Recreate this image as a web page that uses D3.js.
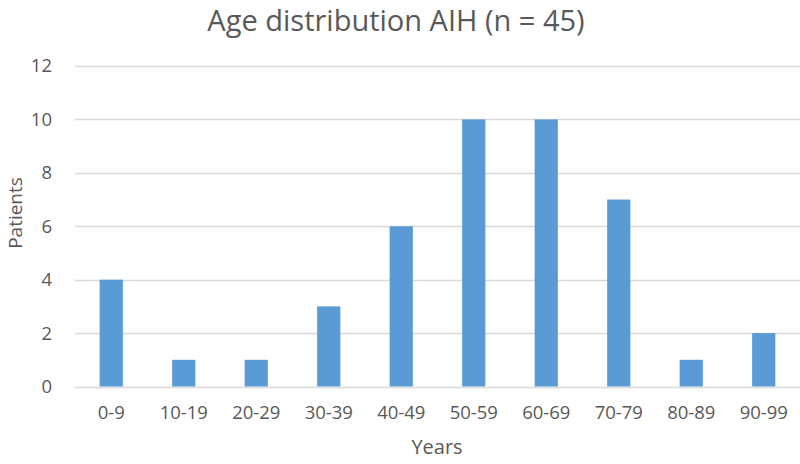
<!DOCTYPE html>
<html>
<head>
<meta charset="utf-8">
<script src="https://cdn.jsdelivr.net/npm/d3@7"></script>
<style>
  body { margin: 0; background: #fff; }
  text { font-family: "Open Sans", sans-serif; fill: #595959; }
</style>
</head>
<body>
<svg id="chart"></svg>
<script>
const ageGroups = ['0-9', '10-19', '20-29', '30-39', '40-49', '50-59', '60-69', '70-79', '80-89', '90-99']
const patients = [4, 1, 1, 3, 6, 10, 10, 7, 1, 2]
const yTicks = [0, 2, 4, 6, 8, 10, 12]

const width = 800, height = 464
const margin = {top: 66, right: 0, bottom: 77.5, left: 75}
const innerW = width - margin.left - margin.right
const innerH = height - margin.top - margin.bottom

const svg = d3.select('#chart')
    .attr('width', width)
    .attr('height', height)

const g = svg.append('g')
    .attr('transform', 'translate(' + margin.left + ',' + margin.top + ')')

const x = d3.scaleBand()
    .domain(ageGroups)
    .range([0, innerW])
    .paddingInner(0.68)
    .paddingOuter(0.34)

const y = d3.scaleLinear()
    .domain([0, 12])
    .range([innerH, 0])

// gridlines
g.append('g')
    .selectAll('line')
    .data(yTicks)
    .join('line')
    .attr('x1', 0)
    .attr('x2', innerW)
    .attr('y1', d => Math.round(y(d)) + 0.5)
    .attr('y2', d => Math.round(y(d)) + 0.5)
    .attr('stroke', '#d9d9d9')
    .attr('stroke-width', 1.3)

// y axis labels
const yAxis = g.append('g')
    .call(d3.axisLeft(y).tickValues(yTicks).tickSize(0).tickPadding(23))
yAxis.select('.domain').remove()
yAxis.selectAll('text')
    .attr('font-size', '18.5px')
    .style('font-family', '"Open Sans", sans-serif')
    .attr('fill', '#595959')

// bars
g.selectAll('rect.bar')
    .data(patients)
    .join('rect')
    .attr('class', 'bar')
    .attr('x', (d, i) => x(ageGroups[i]))
    .attr('width', x.bandwidth())
    .attr('y', d => y(d))
    .attr('height', d => innerH - y(d))
    .attr('fill', '#5b9bd5')

// x axis labels
const xAxis = g.append('g')
    .attr('transform', 'translate(0,' + innerH + ')')
    .call(d3.axisBottom(x).tickSize(0).tickPadding(19))
xAxis.select('.domain').remove()
xAxis.selectAll('text')
    .attr('font-size', '18.5px')
    .style('font-family', '"Open Sans", sans-serif')
    .attr('fill', '#595959')

// title
svg.append('text')
    .attr('x', 396)
    .attr('y', 31)
    .attr('text-anchor', 'middle')
    .attr('font-size', '29px')
    .text('Age distribution AIH (n = 45)')

// axis titles
svg.append('text')
    .attr('x', 437)
    .attr('y', 454)
    .attr('text-anchor', 'middle')
    .attr('font-size', '20px')
    .text('Years')

svg.append('text')
    .attr('transform', 'translate(22,' + 213 + ') rotate(-90)')
    .attr('text-anchor', 'middle')
    .attr('font-size', '19px')
    .text('Patients')
</script>
</body>
</html>
